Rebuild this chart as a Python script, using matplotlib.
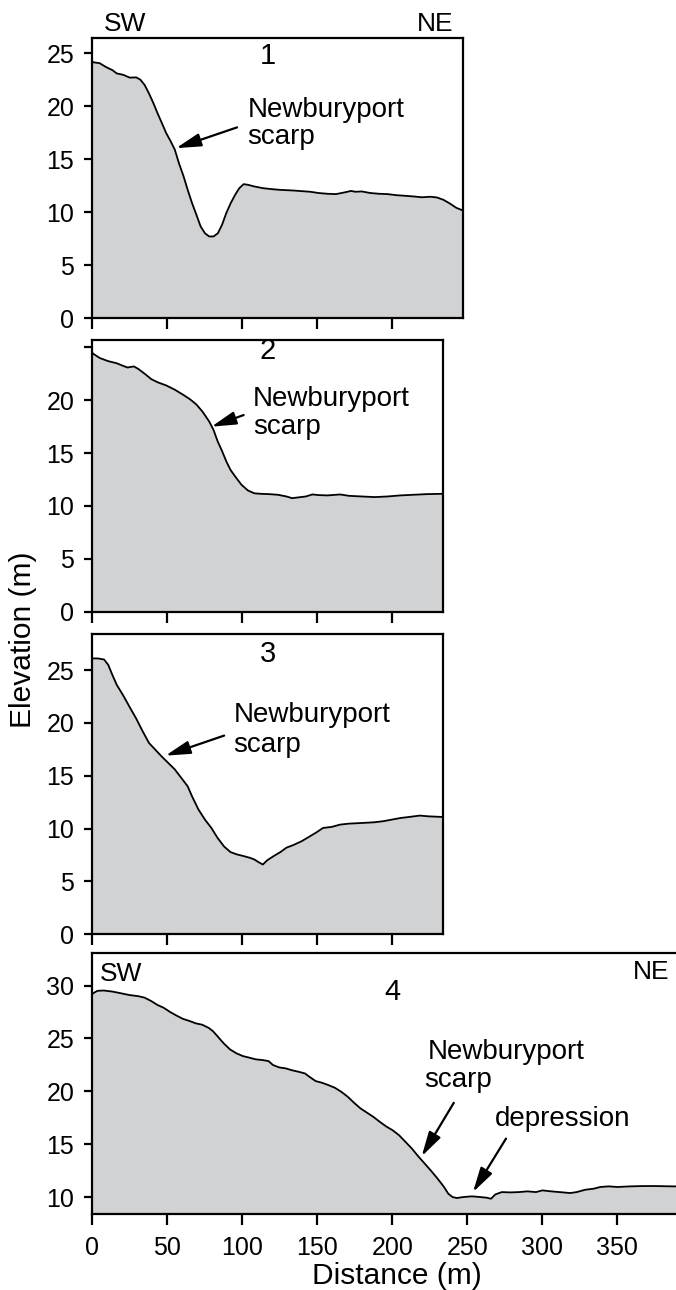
import matplotlib
matplotlib.use("Agg")
import matplotlib.pyplot as plt

plt.rcParams['font.family'] = ['Liberation Sans', 'DejaVu Sans']

# ---- data (distance m, elevation m) ----
p1_x = [0, 0.6, 4.9, 9.1, 13.5, 16.2, 20.7, 24.9, 29.3, 32.1, 34.9, 37.8, 40.7, 43.6, 46.4, 49.3,
        52.2, 55.0, 57.8, 60.8, 63.6, 66.5, 69.4, 72.2, 75.1, 77.9, 80.8, 83.7, 86.5, 89.3, 92.3,
        95.1, 98.0, 100.9, 103.7, 108.0, 113.8, 119.5, 125.2, 133.8, 139.6, 145.3, 151.0, 156.7,
        162.5, 168.2, 172.5, 175.3, 179.7, 185.4, 191.2, 196.8, 202.6, 208.4, 214.0, 219.8, 225.5,
        229.8, 234.1, 238.5, 242.7, 247.0]
p1_y = [24.2, 24.15, 24.06, 23.7, 23.4, 23.1, 22.96, 22.7, 22.72, 22.5, 22.0, 21.2, 20.3, 19.3, 18.4,
        17.45, 16.7, 15.9, 14.6, 13.4, 12.1, 10.85, 9.75, 8.65, 8.0, 7.7, 7.7, 8.0, 8.8, 9.9, 10.85,
        11.6, 12.26, 12.64, 12.58, 12.42, 12.26, 12.17, 12.1, 12.04, 11.98, 11.92, 11.8, 11.73,
        11.7, 11.86, 12.0, 11.92, 11.95, 11.8, 11.73, 11.7, 11.6, 11.54, 11.48, 11.4, 11.45,
        11.38, 11.16, 10.8, 10.4, 10.16]

p2_x = [0, 0.6, 4.9, 10.6, 16.3, 20.6, 23.5, 27.7, 30.6, 35.0, 39.3, 43.6, 49.3, 55.0, 60.8, 65.1,
        69.4, 73.6, 77.9, 80.8, 83.6, 86.5, 89.4, 92.2, 95.2, 99.5, 103.7, 108.0, 112.3, 118.0,
        123.7, 129.4, 133.2, 136.7, 142.4, 146.7, 151.0, 156.8, 165.3, 171.1, 179.6, 188.3,
        196.9, 205.4, 214.0, 222.7, 233.5]
p2_y = [24.5, 24.4, 24.0, 23.7, 23.5, 23.25, 23.1, 23.2, 22.97, 22.5, 22.0, 21.7, 21.4, 21.0, 20.5,
        20.1, 19.6, 18.9, 18.0, 17.2, 16.1, 15.2, 14.2, 13.4, 12.8, 12.0, 11.47, 11.2, 11.15,
        11.12, 11.06, 10.9, 10.74, 10.8, 10.9, 11.09, 11.03, 11.0, 11.09, 10.96, 10.9, 10.84,
        10.9, 11.0, 11.06, 11.12, 11.15]

p3_x = [0, 3.5, 7.8, 10.6, 13.5, 16.3, 20.6, 24.9, 29.3, 33.6, 37.8, 42.1, 46.4, 50.7, 55.0, 59.3,
        63.6, 66.5, 70.8, 75.1, 79.4, 83.6, 87.9, 92.2, 96.6, 100.9, 105.2, 108.0, 110.9, 113.7,
        116.6, 120.9, 125.3, 129.5, 133.8, 139.5, 145.2, 149.5, 153.8, 159.6, 165.3, 171.1,
        179.6, 188.3, 194.0, 199.7, 205.4, 211.1, 218.3, 224.1, 233.5]
p3_y = [26.1, 26.1, 26.0, 25.5, 24.5, 23.6, 22.6, 21.5, 20.4, 19.2, 18.1, 17.45, 16.8, 16.2, 15.6,
        14.8, 14.0, 13.05, 11.8, 10.85, 10.06, 9.1, 8.3, 7.77, 7.55, 7.4, 7.23, 7.08, 6.82, 6.6,
        7.0, 7.4, 7.77, 8.2, 8.43, 8.8, 9.28, 9.65, 10.06, 10.16, 10.38, 10.47, 10.53, 10.6,
        10.7, 10.85, 11.0, 11.1, 11.23, 11.16, 11.1]

p4_x = [0, 0.6, 3.4, 7.7, 13.4, 19.1, 24.8, 30.5, 34.8, 39.1, 43.4, 47.6, 51.9, 56.2, 60.5, 64.7,
        69.0, 73.3, 77.6, 80.4, 83.3, 87.6, 91.8, 96.1, 100.4, 104.7, 109.0, 113.2, 117.5, 120.4,
        124.6, 128.9, 133.2, 137.5, 141.8, 144.6, 148.9, 153.2, 157.4, 161.7, 166.0, 170.3,
        174.5, 178.8, 183.1, 187.4, 191.7, 195.9, 200.2, 204.5, 208.8, 213.1, 217.3, 221.6,
        225.9, 230.2, 234.5, 237.3, 240.2, 243.0, 247.3, 253.0, 258.7, 263.0, 265.8, 268.7,
        273.0, 278.7, 284.4, 290.1, 295.8, 300.1, 305.8, 311.5, 318.6, 322.9, 328.6, 334.3,
        338.6, 344.3, 350.0, 358.6, 367.1, 375.6, 386.5, 392.0]
p4_y = [29.2, 29.27, 29.5, 29.53, 29.43, 29.27, 29.1, 29.0, 28.86, 28.55, 28.17, 27.9, 27.5, 27.16,
        26.85, 26.66, 26.43, 26.3, 26.0, 25.7, 25.24, 24.54, 23.97, 23.6, 23.34, 23.19, 23.03,
        22.97, 22.87, 22.5, 22.27, 22.18, 22.0, 21.86, 21.7, 21.4, 20.98, 20.82, 20.6, 20.35,
        19.97, 19.5, 18.93, 18.4, 18.0, 17.6, 17.13, 16.7, 16.34, 15.87, 15.24, 14.6, 13.88,
        13.19, 12.5, 11.77, 10.98, 10.35, 10.03, 9.94, 10.03, 10.1, 10.03, 9.97, 9.87, 10.28,
        10.5, 10.47, 10.5, 10.57, 10.5, 10.66, 10.57, 10.5, 10.41, 10.5, 10.72, 10.82, 10.98,
        11.04, 10.98, 11.04, 11.07, 11.07, 11.04, 11.04]

x_ticks = [0, 50, 100, 150, 200, 250, 300, 350]
y_ticks_upper = [0, 5, 10, 15, 20, 25]
y_ticks_lower = [10, 15, 20, 25, 30]

FILL = '#d1d2d4'
W, H = 676, 1290
fig = plt.figure(figsize=(W / 100, H / 100), dpi=100)

PXM = 1.5  # pixels per metre
X0 = 92.3


def make_ax(top, bottom, xmax):
    return fig.add_axes([X0 / W, 1 - bottom / H, xmax * PXM / W, (bottom - top) / H])


TICK_FS = 18
ANN_FS = 20


def style(ax, xlim, ylim, yticks, ylabels, xlabels):
    ax.set_xlim(*xlim)
    ax.set_ylim(*ylim)
    ax.set_xticks([t for t in x_ticks if t <= xlim[1]])
    ax.set_yticks(yticks)
    ax.set_yticklabels(ylabels)
    if not xlabels:
        ax.set_xticklabels([])
    for s in ax.spines.values():
        s.set_linewidth(1.6)
    ax.tick_params(axis='both', direction='out', width=1.6, labelsize=TICK_FS)
    ax.tick_params(axis='y', length=6, pad=7)
    ax.tick_params(axis='x', length=8, pad=8)


def profile(ax, x, y, base):
    ax.fill_between(x, y, base, color=FILL, lw=0)
    ax.plot(x, y, color='black', lw=1.3, solid_joinstyle='round')


def arrow(ax, tail, tip):
    ax.annotate('', xy=tip, xytext=tail,
                arrowprops=dict(arrowstyle='-|>,head_length=0.75,head_width=0.2',
                                lw=1.6, color='black', mutation_scale=20,
                                shrinkA=0, shrinkB=0))


# Panel 1
ax1 = make_ax(38, 318, 247)
profile(ax1, p1_x, p1_y, 0)
style(ax1, (0, 247), (0, 26.44), y_ticks_upper, [str(t) for t in y_ticks_upper], False)
ax1.text(117.2, 24.7, '1', fontsize=21, ha='center', va='center')
ax1.text(103.7, 19.65, 'Newburyport', fontsize=ANN_FS, ha='left', va='center')
ax1.text(103.0, 17.1, 'scarp', fontsize=ANN_FS, ha='left', va='center')
arrow(ax1, (96.5, 18.0), (55.9, 16.04))
ax1.text(22.1, 27.8, 'SW', fontsize=19, ha='center', va='center', clip_on=False)
ax1.text(228.4, 27.8, 'NE', fontsize=19, ha='center', va='center', clip_on=False)

# Panel 2
ax2 = make_ax(340, 611.7, 233.5)
profile(ax2, p2_x, p2_y, 0)
style(ax2, (0, 233.5), (0, 25.7), y_ticks_upper,
      [str(t) if t < 25 else '' for t in y_ticks_upper], False)
ax2.text(117.2, 24.7, '2', fontsize=21, ha='center', va='center')
ax2.text(107.1, 20.16, 'Newburyport', fontsize=ANN_FS, ha='left', va='center')
ax2.text(107.1, 17.47, 'scarp', fontsize=ANN_FS, ha='left', va='center')
arrow(ax2, (100.9, 18.6), (79.4, 17.5))

# Panel 3
ax3 = make_ax(634, 934.3, 233.5)
profile(ax3, p3_x, p3_y, 0)
style(ax3, (0, 233.5), (0, 28.41), y_ticks_upper, [str(t) for t in y_ticks_upper], False)
ax3.text(117.2, 26.5, '3', fontsize=21, ha='center', va='center')
ax3.text(94.6, 20.7, 'Newburyport', fontsize=ANN_FS, ha='left', va='center')
ax3.text(93.8, 17.9, 'scarp', fontsize=ANN_FS, ha='left', va='center')
arrow(ax3, (87.9, 18.8), (48.8, 16.9))

# Panel 4
ax4 = make_ax(952.7, 1213.7, 392)
profile(ax4, p4_x, p4_y, 8.46)
style(ax4, (0, 392), (8.46, 33.1), y_ticks_lower, [str(t) for t in y_ticks_lower], True)
ax4.text(200.2, 29.43, '4', fontsize=21, ha='center', va='center')
ax4.text(19.1, 31.1, 'SW', fontsize=19, ha='center', va='center')
ax4.text(372.5, 31.3, 'NE', fontsize=19, ha='center', va='center')
ax4.text(223.6, 23.75, 'Newburyport', fontsize=ANN_FS, ha='left', va='center')
ax4.text(221.6, 21.07, 'scarp', fontsize=ANN_FS, ha='left', va='center')
ax4.text(268.7, 17.44, 'depression', fontsize=ANN_FS, ha='left', va='center')
arrow(ax4, (241.0, 18.93), (219.6, 13.88))
arrow(ax4, (275.8, 15.55), (253.8, 10.5))

fig.text(23 / W, 1 - 640 / H, 'Elevation (m)', rotation=90, fontsize=21.5,
         ha='center', va='center')
fig.text(396.7 / W, 1 - 1284 / H, 'Distance (m)', fontsize=21.5, ha='center', va='baseline')

fig.savefig('out.png', dpi=100)
